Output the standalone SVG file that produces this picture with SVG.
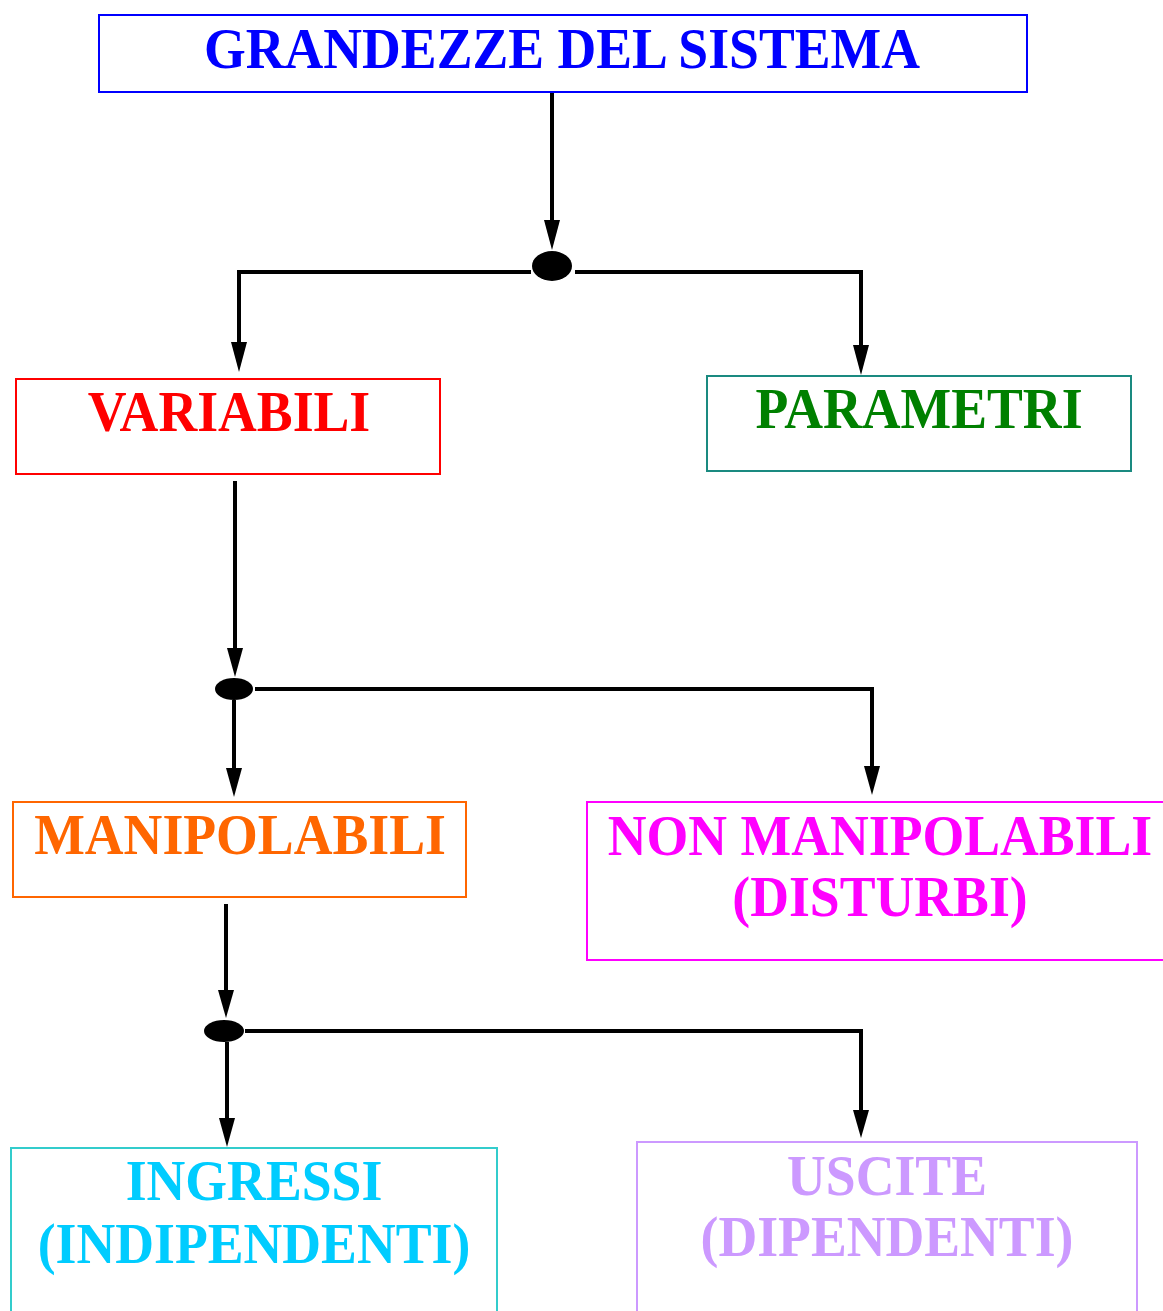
<svg xmlns="http://www.w3.org/2000/svg" width="1163" height="1311" viewBox="0 0 1163 1311">
<style>
.box{fill:#fff;stroke-width:2}
.lbl{font-family:"Liberation Serif","Times New Roman",serif;font-weight:bold;font-size:53.7px;text-anchor:middle}
.con{fill:none;stroke:#000;stroke-width:4}
</style>
<rect width="1163" height="1311" fill="#fff"/>
<g id="connectors">
<path class="con" d="M552,92 V222"/>
<path d="M544,220 L552,250 L560,220 Z"/>
<path class="con" d="M531,272 H239 V344"/>
<path d="M231,342 L239,372 L247,342 Z"/>
<path class="con" d="M575,272 H861 V347"/>
<path d="M853,345 L861,375 L869,345 Z"/>
<path class="con" d="M235,481 V650"/>
<path d="M227,648 L235,677 L243,648 Z"/>
<path class="con" d="M255,689 H872 V768"/>
<path d="M864,766 L872,795 L880,766 Z"/>
<path class="con" d="M234,700 V770"/>
<path d="M226,768 L234,797 L242,768 Z"/>
<path class="con" d="M226,904 V992"/>
<path d="M218,990 L226,1018 L234,990 Z"/>
<path class="con" d="M245,1031 H861 V1112"/>
<path d="M853,1110 L861,1138 L869,1110 Z"/>
<path class="con" d="M227,1042 V1120"/>
<path d="M219,1118 L227,1147 L235,1118 Z"/>
<ellipse cx="552" cy="266" rx="20" ry="15"/>
<ellipse cx="234" cy="689" rx="19" ry="11"/>
<ellipse cx="224" cy="1031" rx="20" ry="11"/>
</g>
<g id="grandezze">
<rect class="box" x="99" y="15" width="928" height="77" stroke="#0000ff"/>
<text class="lbl" transform="translate(562,68) scale(1,1.08)" fill="#0000ff">GRANDEZZE DEL SISTEMA</text>
</g>
<g id="variabili">
<rect class="box" x="16" y="379" width="424" height="95" stroke="#ff0000"/>
<text class="lbl" transform="translate(229,431) scale(1,1.05)" fill="#ff0000">VARIABILI</text>
</g>
<g id="parametri">
<rect class="box" x="707" y="376" width="424" height="95" stroke="#1a8a80"/>
<text class="lbl" transform="translate(919,428) scale(1,1.05)" fill="#008000">PARAMETRI</text>
</g>
<g id="manipolabili">
<rect class="box" x="13" y="802" width="453" height="95" stroke="#ff6600"/>
<text class="lbl" transform="translate(240,854) scale(1,1.05)" fill="#ff6600">MANIPOLABILI</text>
</g>
<g id="non-manipolabili">
<rect class="box" x="587" y="802" width="600" height="158" stroke="#ff00ff"/>
<text class="lbl" transform="translate(880,855) scale(1,1.05)" fill="#ff00ff">NON MANIPOLABILI</text>
<text class="lbl" transform="translate(880,916) scale(1,1.05)" fill="#ff00ff">(DISTURBI)</text>
</g>
<g id="ingressi">
<rect class="box" x="11" y="1148" width="486" height="200" stroke="#33cccc"/>
<text class="lbl" transform="translate(254,1200) scale(1,1.05)" fill="#00ccff">INGRESSI</text>
<text class="lbl" transform="translate(254,1263) scale(1,1.05)" fill="#00ccff">(INDIPENDENTI)</text>
</g>
<g id="uscite">
<rect class="box" x="637" y="1142" width="500" height="200" stroke="#cc99ff"/>
<text class="lbl" transform="translate(887,1195) scale(1,1.05)" fill="#cc99ff">USCITE</text>
<text class="lbl" transform="translate(887,1256) scale(1,1.05)" fill="#cc99ff">(DIPENDENTI)</text>
</g>
</svg>
